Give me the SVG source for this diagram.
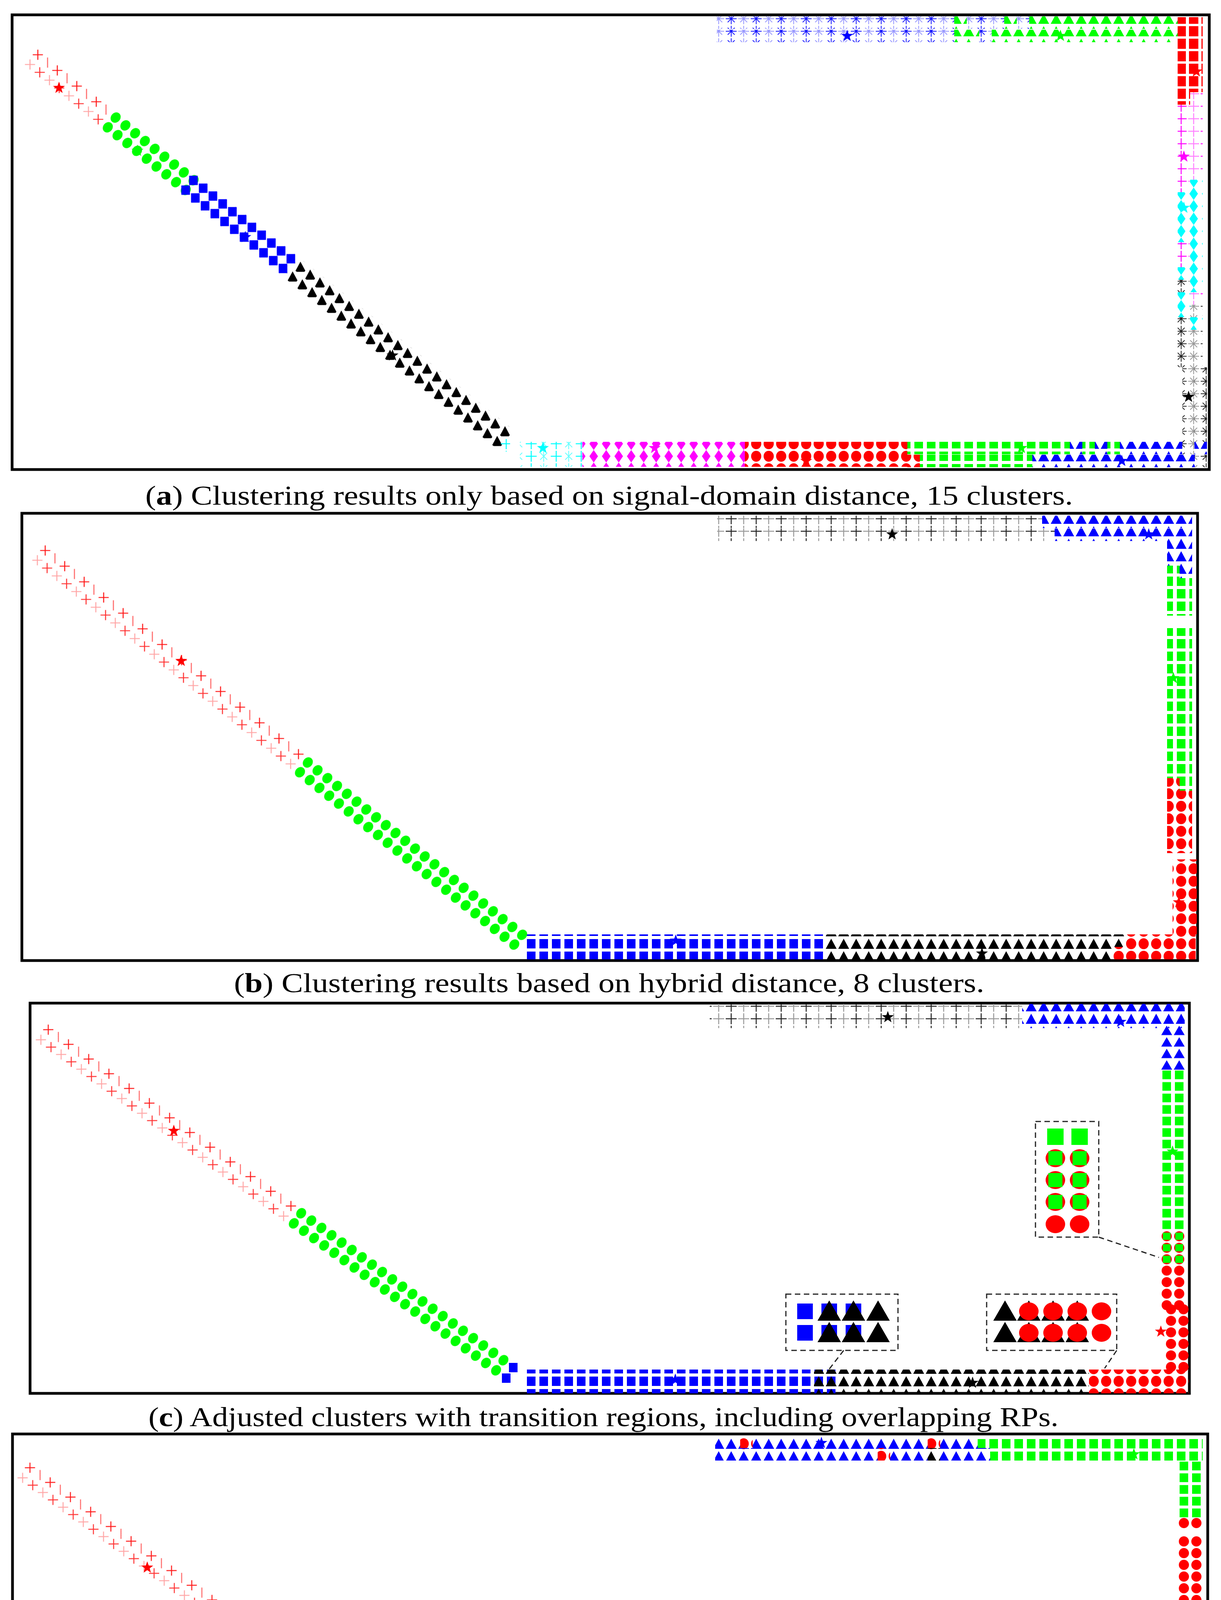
<svg xmlns="http://www.w3.org/2000/svg" width="3126" height="4863" viewBox="0 0 3126 4863">
<style>
.box{fill:none;stroke:#000;stroke-width:7}
.cap{font-family:"Liberation Serif","DejaVu Serif",serif;font-size:70px;fill:#000}
.ins{fill:#fff;stroke:#222;stroke-width:3;stroke-dasharray:14 9}
.lead{fill:none;stroke:#222;stroke-width:3;stroke-dasharray:14 9}
</style>
<defs>
<path id="star" d="M0,-16L3.8,-5.3L15.2,-4.9L6.2,2L9.4,12.9L0,6.5L-9.4,12.9L-6.2,2L-15.2,-4.9L-3.8,-5.3Z"/>
<pattern id="gc" width="32" height="32" patternUnits="userSpaceOnUse"><ellipse cx="16" cy="16" rx="12" ry="14" fill="#0f0"/></pattern>
<pattern id="rc" width="32" height="32" patternUnits="userSpaceOnUse"><ellipse cx="16" cy="16" rx="13" ry="14" fill="#f00"/></pattern>
<pattern id="grc" width="32" height="32" patternUnits="userSpaceOnUse"><ellipse cx="16" cy="16" rx="13" ry="14" fill="#f00"/><rect x="6" y="6" width="20" height="20" fill="#0f0"/></pattern>
<pattern id="gs" width="32" height="32" patternUnits="userSpaceOnUse"><rect x="5" y="4" width="22" height="24" fill="#0f0"/></pattern>
<pattern id="bs" width="32" height="32" patternUnits="userSpaceOnUse"><rect x="5" y="4" width="22" height="24" fill="#00f"/></pattern>
<pattern id="rs" width="32" height="32" patternUnits="userSpaceOnUse"><rect x="4" y="3" width="24" height="26" fill="#f00"/></pattern>
<pattern id="bt" width="32" height="32" patternUnits="userSpaceOnUse"><polygon points="16,3 30,29 2,29" fill="#00f"/></pattern>
<pattern id="gt" width="32" height="32" patternUnits="userSpaceOnUse"><polygon points="16,3 30,29 2,29" fill="#0f0"/></pattern>
<pattern id="kt" width="32" height="32" patternUnits="userSpaceOnUse"><polygon points="16,3 30,29 2,29" fill="#000"/></pattern>
<pattern id="md" width="32" height="32" patternUnits="userSpaceOnUse"><polygon points="16,0 27,16 16,32 5,16" fill="#f0f"/></pattern>
<pattern id="cd" width="32" height="32" patternUnits="userSpaceOnUse"><polygon points="16,0 27,16 16,32 5,16" fill="#0ff"/></pattern>
<pattern id="kp" width="64" height="32" patternUnits="userSpaceOnUse"><path d="M2 16H30M16 2V30" stroke="#222" stroke-width="2.5"/><path d="M34 16H62M48 2V30" stroke="#999" stroke-width="2.5"/></pattern>
<pattern id="bx" width="64" height="32" patternUnits="userSpaceOnUse"><path d="M2 16H30M16 2V30M7 7L25 25M25 7L7 25" stroke="#00f" stroke-width="2" opacity=".9"/><path d="M34 16H62M48 2V30M39 7L57 25M57 7L39 25" stroke="#00f" stroke-width="2" opacity=".4"/></pattern>
<pattern id="kx" width="64" height="32" patternUnits="userSpaceOnUse"><path d="M2 16H30M16 2V30M7 7L25 25M25 7L7 25" stroke="#000" stroke-width="2" opacity=".85"/><path d="M34 16H62M48 2V30M39 7L57 25M57 7L39 25" stroke="#000" stroke-width="2" opacity=".4"/></pattern>
<pattern id="mp" width="64" height="32" patternUnits="userSpaceOnUse"><path d="M2 16H30M16 2V30" stroke="#f0f" stroke-width="2.5"/><path d="M34 16H62M48 2V30" stroke="#f0f" stroke-width="2.5" opacity=".5"/></pattern>
<pattern id="cp" width="64" height="32" patternUnits="userSpaceOnUse"><path d="M2 16H30M16 2V30" stroke="#0ff" stroke-width="2.5"/><path d="M48 2V30M39 7L57 25M57 7L39 25" stroke="#0ff" stroke-width="2" opacity=".6"/></pattern>
<pattern id="rp38" width="64" height="64" patternUnits="userSpaceOnUse"><g stroke="#f00" stroke-width="2.5"><path transform="rotate(-38.8 16 16)" d="M3 16H29M16 3V29" opacity=".9"/><path transform="rotate(-38.8 48 16)" d="M48 3V29" opacity=".6"/><path transform="rotate(-38.8 16 48)" d="M3 48H29M16 35V61" opacity=".35"/><path transform="rotate(-38.8 48 48)" d="M35 48H61M48 35V61" opacity=".8"/></g></pattern>
<pattern id="rp36" width="64" height="64" patternUnits="userSpaceOnUse"><g stroke="#f00" stroke-width="2.5"><path transform="rotate(-36 16 16)" d="M3 16H29M16 3V29" opacity=".9"/><path transform="rotate(-36 48 16)" d="M48 3V29" opacity=".6"/><path transform="rotate(-36 16 48)" d="M3 48H29M16 35V61" opacity=".35"/><path transform="rotate(-36 48 48)" d="M35 48H61M48 35V61" opacity=".8"/></g></pattern>
<pattern id="bs38" width="32" height="32" patternUnits="userSpaceOnUse"><rect transform="rotate(-38.8 16 16)" x="5" y="4" width="22" height="24" fill="#00f"/></pattern>
<pattern id="kt38" width="32" height="32" patternUnits="userSpaceOnUse"><polygon transform="rotate(-38.8 16 16)" points="16,3 30,29 2,29" fill="#000"/></pattern>
</defs>
<rect width="3126" height="4863" fill="#fff"/>

<g id="panel-a">
<rect class="box" x="31" y="38" width="3065" height="1164"/>
<rect transform="translate(94.4,117.7) rotate(38.8)" width="256" height="64" fill="url(#rp38)"/>
<rect transform="translate(293.6,278.5) rotate(38.8)" width="288" height="64" fill="url(#gc)"/>
<rect transform="translate(492.8,439.3) rotate(38.8)" width="352" height="64" fill="url(#bs38)"/>
<rect transform="translate(766.7,660.4) rotate(38.8)" width="704" height="64" fill="url(#kt38)"/>
<rect x="1274" y="1124" width="32" height="32" fill="url(#cp)"/>
<rect x="1835" y="42" width="608" height="32" fill="url(#bx)"/>
<rect x="2443" y="42" width="32" height="32" fill="url(#gt)"/>
<rect x="2475" y="42" width="96" height="32" fill="url(#bx)"/>
<rect x="2571" y="42" width="32" height="32" fill="url(#gt)"/>
<rect x="2603" y="42" width="32" height="32" fill="url(#bx)"/>
<rect x="2635" y="42" width="384" height="32" fill="url(#gt)"/>
<rect x="1835" y="76" width="608" height="32" fill="url(#bx)"/>
<rect x="2443" y="76" width="64" height="32" fill="url(#gt)"/>
<rect x="2507" y="76" width="32" height="32" fill="url(#bx)"/>
<rect x="2539" y="76" width="480" height="32" fill="url(#gt)"/>
<rect x="3015" y="44" width="32" height="224" fill="url(#rs)"/>
<rect x="3047" y="44" width="32" height="192" fill="url(#rs)"/>
<rect x="3015" y="268" width="32" height="224" fill="url(#mp)"/>
<rect x="3015" y="492" width="32" height="128" fill="url(#cd)"/>
<rect x="3015" y="620" width="32" height="64" fill="url(#mp)"/>
<rect x="3015" y="684" width="32" height="32" fill="url(#cd)"/>
<rect x="3015" y="716" width="32" height="32" fill="url(#kx)"/>
<rect x="3015" y="748" width="32" height="64" fill="url(#cd)"/>
<rect x="3015" y="812" width="32" height="128" fill="url(#kx)"/>
<rect x="3047" y="236" width="32" height="224" fill="url(#mp)"/>
<rect x="3047" y="460" width="32" height="288" fill="url(#cd)"/>
<rect x="3047" y="748" width="32" height="32" fill="url(#mp)"/>
<rect x="3047" y="780" width="32" height="32" fill="url(#kx)"/>
<rect x="3047" y="812" width="32" height="32" fill="url(#cd)"/>
<rect x="3047" y="844" width="32" height="96" fill="url(#kx)"/>
<rect x="3027" y="940" width="32" height="192" fill="url(#kx)"/>
<rect x="3058" y="940" width="32" height="192" fill="url(#kx)"/>
<rect x="1331" y="1131" width="160" height="64" fill="url(#cp)"/>
<rect x="1491" y="1131" width="416" height="64" fill="url(#md)"/>
<rect x="1907" y="1131" width="416" height="64" fill="url(#rc)"/>
<rect x="2323" y="1131" width="416" height="32" fill="url(#gs)"/>
<rect x="2739" y="1131" width="32" height="32" fill="url(#bt)"/>
<rect x="2771" y="1131" width="32" height="32" fill="url(#gs)"/>
<rect x="2803" y="1131" width="32" height="32" fill="url(#bt)"/>
<rect x="2835" y="1131" width="32" height="32" fill="url(#gs)"/>
<rect x="2867" y="1131" width="160" height="32" fill="url(#bt)"/>
<rect x="3027" y="1131" width="32" height="32" fill="url(#kx)"/>
<rect x="3058" y="1131" width="32" height="32" fill="url(#bt)"/>
<rect x="2323" y="1164" width="32" height="32" fill="url(#rc)"/>
<rect x="2355" y="1164" width="288" height="32" fill="url(#gs)"/>
<rect x="2643" y="1164" width="416" height="32" fill="url(#bt)"/>
<rect x="3058" y="1164" width="32" height="32" fill="url(#kx)"/>
<use href="#star" x="151" y="225" fill="#f00"/>
<use href="#star" x="352" y="386" fill="#0f0"/>
<use href="#star" x="628" y="607" fill="#00f"/>
<use href="#star" x="1005" y="910" fill="#000"/>
<use href="#star" x="2169" y="92" fill="#00f"/>
<use href="#star" x="2715" y="92" fill="#0f0"/>
<use href="#star" x="3063" y="183" fill="#f00"/>
<use href="#star" x="3031" y="401" fill="#f0f"/>
<use href="#star" x="3031" y="532" fill="#0ff"/>
<use href="#star" x="3043" y="1016" fill="#000"/>
<use href="#star" x="1390" y="1147" fill="#0ff"/>
<use href="#star" x="1676" y="1147" fill="#f0f"/>
<use href="#star" x="2064" y="1180" fill="#f00"/>
<use href="#star" x="2615" y="1147" fill="#0f0"/>
<use href="#star" x="2872" y="1180" fill="#00f"/>
<text class="cap" x="372" y="1292" textLength="2375" lengthAdjust="spacingAndGlyphs">(<tspan font-weight="bold">a</tspan>) Clustering results only based on signal-domain distance, 15 clusters.</text>
</g>

<g id="panel-b">
<rect class="box" x="56" y="1314" width="3010" height="1145"/>
<rect transform="translate(113.3,1386.8) rotate(38.8)" width="864" height="64" fill="url(#rp38)"/>
<rect transform="translate(785.6,1929.5) rotate(38.8)" width="736" height="64" fill="url(#gc)"/>
<rect x="1836" y="1320" width="832" height="32" fill="url(#kp)"/>
<rect x="2668" y="1320" width="384" height="32" fill="url(#bt)"/>
<rect x="1836" y="1353" width="864" height="32" fill="url(#kp)"/>
<rect x="2700" y="1353" width="352" height="32" fill="url(#bt)"/>
<rect x="2988" y="1384" width="64" height="64" fill="url(#bt)"/>
<rect x="2988" y="1448" width="32" height="32" fill="url(#gs)"/>
<rect x="3020" y="1448" width="32" height="32" fill="url(#bt)"/>
<rect x="2988" y="1480" width="64" height="96" fill="url(#gs)"/>
<rect x="2988" y="1608" width="32" height="384" fill="url(#gs)"/>
<rect x="2988" y="1992" width="32" height="192" fill="url(#rc)"/>
<rect x="3020" y="1608" width="32" height="416" fill="url(#gs)"/>
<rect x="3020" y="2024" width="32" height="160" fill="url(#rc)"/>
<rect x="3002" y="2200" width="32" height="192" fill="url(#rc)"/>
<rect x="3032" y="2200" width="32" height="192" fill="url(#rc)"/>
<rect x="1345" y="2392" width="768" height="64" fill="url(#bs)"/>
<rect x="2113" y="2392" width="768" height="32" fill="url(#kt)"/>
<rect x="2881" y="2392" width="180" height="32" fill="url(#rc)"/>
<rect x="2113" y="2424" width="736" height="32" fill="url(#kt)"/>
<rect x="2849" y="2424" width="212" height="32" fill="url(#rc)"/>
<use href="#star" x="464" y="1692" fill="#f00"/>
<use href="#star" x="2284" y="1368" fill="#000"/>
<use href="#star" x="2941" y="1368" fill="#00f"/>
<use href="#star" x="3004" y="1736" fill="#0f0"/>
<use href="#star" x="3018" y="2310" fill="#f00"/>
<use href="#star" x="1730" y="2408" fill="#00f"/>
<use href="#star" x="2514" y="2441" fill="#000"/>
<text class="cap" x="599" y="2540" textLength="1921" lengthAdjust="spacingAndGlyphs">(<tspan font-weight="bold">b</tspan>) Clustering results based on hybrid distance, 8 clusters.</text>
</g>

<g id="panel-c">
<rect class="box" x="77" y="2568" width="2968" height="999"/>
<rect transform="translate(120,2613.6) rotate(36)" width="800" height="64" fill="url(#rp36)"/>
<rect transform="translate(767.5,3083.6) rotate(36)" width="672" height="64" fill="url(#gc)"/>
<rect x="1303" y="3489" width="22" height="24" fill="#00f"/>
<rect x="1285" y="3516" width="22" height="24" fill="#00f"/>
<rect x="1817" y="2570" width="800" height="32" fill="url(#kp)"/>
<rect x="2617" y="2570" width="416" height="32" fill="url(#bt)"/>
<rect x="1817" y="2600" width="800" height="32" fill="url(#kp)"/>
<rect x="2617" y="2600" width="416" height="32" fill="url(#bt)"/>
<rect transform="translate(2971,2623) scale(1 0.922)" width="64" height="128" fill="url(#bt)"/>
<rect transform="translate(2971,2737) scale(1 0.922)" width="64" height="64" fill="url(#gs)"/>
<rect transform="translate(2971,2796) scale(1 0.922)" width="64" height="384" fill="url(#gs)"/>
<rect transform="translate(2971,3150) scale(1 0.922)" width="64" height="96" fill="url(#grc)"/>
<rect transform="translate(2971,3238) scale(1 0.922)" width="64" height="128" fill="url(#rc)"/>
<rect transform="translate(2982,3337) scale(1 0.922)" width="64" height="192" fill="url(#rc)"/>
<rect x="1346" y="3506" width="736" height="32" fill="url(#bs)"/>
<rect x="1346" y="3535" width="736" height="32" fill="url(#bs)"/>
<rect x="2084" y="3506" width="64" height="32" fill="url(#bs)"/>
<rect x="2084" y="3535" width="64" height="32" fill="url(#bs)"/>
<rect x="2084" y="3506" width="704" height="32" fill="url(#kt)"/>
<rect x="2084" y="3535" width="704" height="32" fill="url(#kt)"/>
<rect x="2788" y="3506" width="256" height="32" fill="url(#rc)"/>
<rect x="2788" y="3535" width="256" height="32" fill="url(#rc)"/>
<use href="#star" x="445" y="2895" fill="#f00"/>
<use href="#star" x="2273" y="2604" fill="#000"/>
<use href="#star" x="2869" y="2616" fill="#00f"/>
<use href="#star" x="3002" y="2948" fill="#0f0"/>
<use href="#star" x="2972" y="3409" fill="#f00"/>
<use href="#star" x="2490" y="3540" fill="#000"/>
<use href="#star" x="1729" y="3532" fill="#00f"/>
<g id="inset-1">
<rect class="ins" x="2651" y="2871" width="162" height="296"/>
<rect x="2681" y="2889" width="42" height="42" fill="#0f0"/><rect x="2743" y="2889" width="42" height="42" fill="#0f0"/>
<ellipse cx="2702" cy="2965" rx="25" ry="23" fill="#f00"/><ellipse cx="2764" cy="2965" rx="25" ry="23" fill="#f00"/>
<ellipse cx="2702" cy="3021" rx="25" ry="23" fill="#f00"/><ellipse cx="2764" cy="3021" rx="25" ry="23" fill="#f00"/>
<ellipse cx="2702" cy="3077" rx="25" ry="23" fill="#f00"/><ellipse cx="2764" cy="3077" rx="25" ry="23" fill="#f00"/>
<rect x="2684" y="2947" width="36" height="36" fill="#0f0"/><rect x="2746" y="2947" width="36" height="36" fill="#0f0"/>
<rect x="2684" y="3003" width="36" height="36" fill="#0f0"/><rect x="2746" y="3003" width="36" height="36" fill="#0f0"/>
<rect x="2684" y="3059" width="36" height="36" fill="#0f0"/><rect x="2746" y="3059" width="36" height="36" fill="#0f0"/>
<ellipse cx="2702" cy="3134" rx="25" ry="23" fill="#f00"/><ellipse cx="2764" cy="3134" rx="25" ry="23" fill="#f00"/>
</g>
<g id="inset-2">
<rect class="ins" x="2012" y="3313" width="287" height="144"/>
<rect x="2041" y="3337" width="40" height="40" fill="#00f"/><rect x="2041" y="3392" width="40" height="40" fill="#00f"/>
<rect x="2103" y="3337" width="40" height="40" fill="#00f"/><rect x="2103" y="3392" width="40" height="40" fill="#00f"/>
<rect x="2165" y="3337" width="40" height="40" fill="#00f"/><rect x="2165" y="3392" width="40" height="40" fill="#00f"/>
<polygon points="2123,3329 2153,3381 2093,3381" fill="#000"/><polygon points="2185,3329 2215,3381 2155,3381" fill="#000"/><polygon points="2248,3329 2278,3381 2218,3381" fill="#000"/>
<polygon points="2123,3384 2153,3436 2093,3436" fill="#000"/><polygon points="2185,3384 2215,3436 2155,3436" fill="#000"/><polygon points="2248,3384 2278,3436 2218,3436" fill="#000"/>
</g>
<g id="inset-3">
<rect class="ins" x="2526" y="3313" width="333" height="144"/>
<polygon points="2573,3329 2603,3381 2543,3381" fill="#000"/><polygon points="2634,3329 2664,3381 2604,3381" fill="#000"/><polygon points="2696,3329 2726,3381 2666,3381" fill="#000"/><polygon points="2758,3329 2788,3381 2728,3381" fill="#000"/>
<polygon points="2573,3384 2603,3436 2543,3436" fill="#000"/><polygon points="2634,3384 2664,3436 2604,3436" fill="#000"/><polygon points="2696,3384 2726,3436 2666,3436" fill="#000"/><polygon points="2758,3384 2788,3436 2728,3436" fill="#000"/>
<ellipse cx="2634" cy="3357" rx="25" ry="23" fill="#f00"/><ellipse cx="2696" cy="3357" rx="25" ry="23" fill="#f00"/><ellipse cx="2758" cy="3357" rx="25" ry="23" fill="#f00"/><ellipse cx="2820" cy="3357" rx="25" ry="23" fill="#f00"/>
<ellipse cx="2634" cy="3412" rx="25" ry="23" fill="#f00"/><ellipse cx="2696" cy="3412" rx="25" ry="23" fill="#f00"/><ellipse cx="2758" cy="3412" rx="25" ry="23" fill="#f00"/><ellipse cx="2820" cy="3412" rx="25" ry="23" fill="#f00"/>
</g>
<text class="cap" x="380" y="3651" textLength="2330" lengthAdjust="spacingAndGlyphs">(<tspan font-weight="bold">c</tspan>) Adjusted clusters with transition regions, including overlapping RPs.</text>
</g>

<g id="panel-d">
<rect class="box" x="32" y="3671" width="3060" height="1067"/>
<rect transform="translate(73.2,3735) rotate(36)" width="864" height="64" fill="url(#rp36)"/>
<rect transform="translate(772.5,4242.6) rotate(36)" width="704" height="64" fill="url(#gc)"/>
<ellipse cx="1357" cy="4688" rx="12" ry="14" fill="#f00"/>
<ellipse cx="1357" cy="4719" rx="12" ry="14" fill="#0f0"/>
<rect x="1831" y="3678" width="64" height="32" fill="url(#bt)"/>
<rect x="1895" y="3678" width="32" height="32" fill="url(#rc)"/>
<rect x="1927" y="3678" width="448" height="32" fill="url(#bt)"/>
<rect x="2375" y="3678" width="32" height="32" fill="url(#rc)"/>
<rect x="2407" y="3678" width="96" height="32" fill="url(#bt)"/>
<rect x="2503" y="3678" width="576" height="32" fill="url(#gs)"/>
<rect x="1831" y="3707" width="416" height="32" fill="url(#bt)"/>
<rect x="2247" y="3707" width="32" height="32" fill="url(#rc)"/>
<rect x="2279" y="3707" width="96" height="32" fill="url(#bt)"/>
<rect x="2375" y="3707" width="32" height="32" fill="url(#kt)"/>
<rect x="2407" y="3707" width="128" height="32" fill="url(#bt)"/>
<rect x="2535" y="3707" width="544" height="32" fill="url(#gs)"/>
<rect transform="translate(3015,3738) scale(1 0.9375)" width="64" height="160" fill="url(#gs)"/>
<rect transform="translate(3015,3884) scale(1 0.9375)" width="64" height="32" fill="url(#rc)"/>
<rect transform="translate(3015,3931) scale(1 0.9375)" width="64" height="608" fill="url(#rc)"/>
<rect transform="translate(3026,4494) scale(1 0.9375)" width="32" height="160" fill="url(#rc)"/>
<rect transform="translate(3057,4494) scale(1 0.9375)" width="32" height="160" fill="url(#rc)"/>
<rect transform="translate(3026,4643) scale(1 0.9375)" width="32" height="32" fill="url(#kt)"/>
<rect transform="translate(3057,4643) scale(1 0.9375)" width="32" height="32" fill="url(#rc)"/>
<rect x="1373" y="4672" width="192" height="32" fill="url(#bs)"/>
<rect x="1565" y="4672" width="32" height="32" fill="url(#bt)"/>
<rect x="1597" y="4672" width="448" height="32" fill="url(#bs)"/>
<rect x="2045" y="4672" width="64" height="32" fill="url(#bt)"/>
<rect x="2109" y="4672" width="32" height="32" fill="url(#bs)"/>
<rect x="2141" y="4672" width="32" height="32" fill="url(#gs)"/>
<rect x="2173" y="4672" width="32" height="32" fill="url(#kt)"/>
<rect x="2205" y="4672" width="32" height="32" fill="url(#gs)"/>
<rect x="2237" y="4672" width="128" height="32" fill="url(#kt)"/>
<rect x="2365" y="4672" width="32" height="32" fill="url(#gs)"/>
<rect x="2397" y="4672" width="672" height="32" fill="url(#kt)"/>
<rect x="1373" y="4702" width="32" height="32" fill="url(#bs)"/>
<rect x="1405" y="4702" width="64" height="32" fill="url(#bt)"/>
<rect x="1469" y="4702" width="512" height="32" fill="url(#bs)"/>
<rect x="1981" y="4702" width="32" height="32" fill="url(#bt)"/>
<rect x="2013" y="4702" width="32" height="32" fill="url(#bs)"/>
<rect x="2045" y="4702" width="32" height="32" fill="url(#bt)"/>
<rect x="2077" y="4702" width="32" height="32" fill="url(#rc)"/>
<rect x="2109" y="4702" width="32" height="32" fill="url(#bs)"/>
<rect x="2141" y="4702" width="96" height="32" fill="url(#kt)"/>
<rect x="2237" y="4702" width="32" height="32" fill="url(#gs)"/>
<rect x="2269" y="4702" width="32" height="32" fill="url(#kt)"/>
<rect x="2301" y="4702" width="32" height="32" fill="url(#gs)"/>
<rect x="2333" y="4702" width="736" height="32" fill="url(#kt)"/>
<use href="#star" x="377" y="4013" fill="#f00"/>
<use href="#star" x="1102" y="4504" fill="#0f0"/>
<use href="#star" x="2103" y="3694" fill="#00f"/>
<use href="#star" x="2903" y="3723" fill="#0f0"/>
<use href="#star" x="3063" y="4335" fill="#f00"/>
<use href="#star" x="1741" y="4688" fill="#00f"/>
<use href="#star" x="2689" y="4718" fill="#000"/>
<text class="cap" x="298" y="4823" textLength="2508" lengthAdjust="spacingAndGlyphs">(<tspan font-weight="bold">d</tspan>) Clustering results based on reference [30] and hybrid distance, 7 clusters.</text>
</g>

<g id="connectors">
<path class="lead" d="M2813 3167L2967 3219"/>
<path class="lead" d="M2160 3457L2119 3510"/>
<path class="lead" d="M2859 3457L2828 3503"/>
</g>
</svg>
